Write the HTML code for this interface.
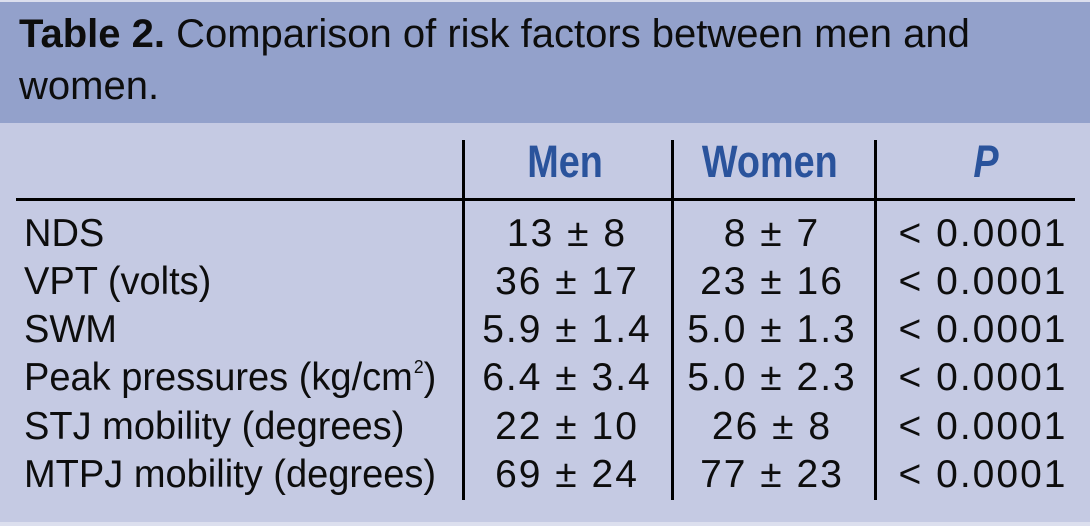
<!DOCTYPE html>
<html>
<head>
<meta charset="utf-8">
<style>
  html, body { margin:0; padding:0; }
  body { width:1090px; height:526px; position:relative; overflow:hidden; background:#dcdfee;
         font-family:"Liberation Sans", Arial, sans-serif; color:#0d0d0d; }
  .hdr { position:absolute; left:0; top:2px; width:1090px; height:121px; background:#93a1cb; }
  .bd { position:absolute; left:0; top:123px; width:1090px; height:399px; background:#c5cae3; }
  .title { position:absolute; left:19px; top:8px; font-size:40px; line-height:52px; white-space:nowrap; }
  .title b { font-weight:bold; }
  .vl { position:absolute; top:140px; width:3px; height:360px; background:#000; }
  .hl { position:absolute; left:16px; top:198px; width:1059px; height:3px; background:#000; }
  .ch { position:absolute; top:137px; height:50px; width:300px; text-align:center; font-size:45px; line-height:50px;
        font-weight:bold; color:#2a539c; white-space:nowrap; }
  .ch span { display:inline-block; transform:scaleX(0.84); transform-origin:center; }
  .row { position:absolute; left:0; width:1090px; height:48px; font-size:39px; line-height:48px; white-space:nowrap; }
  .lab { position:absolute; left:24px; top:0; transform:scaleX(0.975); transform-origin:left center; }
  .v { position:absolute; top:0; width:300px; text-align:center; letter-spacing:2px; }
  .m { left:417px; }
  .w { left:622px; }
  .p { left:833px; }
  sup { font-size:18px; line-height:0; vertical-align:17px; margin-left:1px; }
</style>
</head>
<body>
  <div class="hdr"></div>
  <div class="bd"></div>
  <div class="title"><b>Table 2.</b> Comparison of risk factors between men and<br>women.</div>

  <div class="vl" style="left:462px"></div>
  <div class="vl" style="left:671px"></div>
  <div class="vl" style="left:874px"></div>
  <div class="hl"></div>

  <div class="ch" style="left:415px"><span>Men</span></div>
  <div class="ch" style="left:620px"><span>Women</span></div>
  <div class="ch" style="left:836px"><span style="font-style:italic">P</span></div>

  <div class="row" style="top:209.5px">
    <div class="lab">NDS</div>
    <div class="v m">13 ± 8</div>
    <div class="v w">8 ± 7</div>
    <div class="v p">&lt; 0.0001</div>
  </div>
  <div class="row" style="top:257.8px">
    <div class="lab">VPT (volts)</div>
    <div class="v m">36 ± 17</div>
    <div class="v w">23 ± 16</div>
    <div class="v p">&lt; 0.0001</div>
  </div>
  <div class="row" style="top:306.1px">
    <div class="lab">SWM</div>
    <div class="v m">5.9 ± 1.4</div>
    <div class="v w">5.0 ± 1.3</div>
    <div class="v p">&lt; 0.0001</div>
  </div>
  <div class="row" style="top:354.4px">
    <div class="lab">Peak pressures (kg/cm<sup>2</sup>)</div>
    <div class="v m">6.4 ± 3.4</div>
    <div class="v w">5.0 ± 2.3</div>
    <div class="v p">&lt; 0.0001</div>
  </div>
  <div class="row" style="top:402.7px">
    <div class="lab">STJ mobility (degrees)</div>
    <div class="v m">22 ± 10</div>
    <div class="v w">26 ± 8</div>
    <div class="v p">&lt; 0.0001</div>
  </div>
  <div class="row" style="top:451px">
    <div class="lab">MTPJ mobility (degrees)</div>
    <div class="v m">69 ± 24</div>
    <div class="v w">77 ± 23</div>
    <div class="v p">&lt; 0.0001</div>
  </div>
</body>
</html>
